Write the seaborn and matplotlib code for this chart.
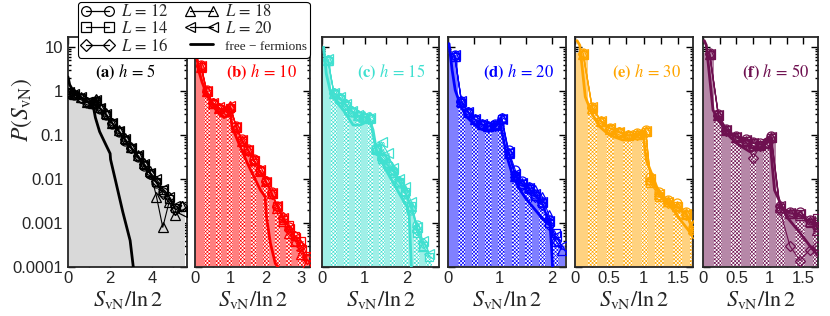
import numpy as np
import matplotlib
matplotlib.use("Agg")
import matplotlib.pyplot as plt
import seaborn as sns
from matplotlib.lines import Line2D
from matplotlib.ticker import MultipleLocator, LogLocator, NullFormatter, FuncFormatter

nan = np.nan
sizes_L = [12, 14, 16, 18, 20]

# ---------------- panel (a) h = 5 ----------------
x_a = [0.05, 0.3, 0.6, 0.9, 1.2, 1.35, 1.5, 1.8, 2.1, 2.4, 2.7, 3.0, 3.3, 3.6, 3.9, 4.2, 4.5, 4.8, 5.1, 5.4]
a_L12 = [0.9, 0.8, 0.68, 0.55, 0.5, 0.55, 0.4, 0.28, 0.18, 0.12, 0.075, 0.05, 0.031, 0.02, 0.013, 0.008, 0.005, nan, nan, nan]
a_L14 = [0.95, 0.82, 0.7, 0.56, 0.52, 0.6, 0.41, 0.29, 0.19, 0.122, 0.079, 0.05, 0.033, 0.021, 0.014, 0.0085, 0.0055, 0.0035, 0.0022, nan]
a_L16 = [0.92, 0.84, 0.71, 0.57, 0.54, 0.62, 0.42, 0.3, 0.185, 0.125, 0.08, 0.052, 0.034, 0.022, 0.013, 0.009, 0.0045, 0.004, 0.002, 0.0025]
a_L18 = [0.9, 0.85, 0.72, 0.58, 0.55, 0.65, 0.43, 0.31, 0.19, 0.13, 0.085, 0.054, 0.036, 0.023, 0.015, 0.004, 0.0008, 0.003, 0.0015, 0.0025]
a_L20 = [0.95, 0.85, 0.72, 0.58, 0.56, 0.63, 0.42, 0.3, 0.19, 0.125, 0.08, 0.05, 0.035, 0.022, 0.014, 0.01, 0.006, 0.004, 0.0025, 0.0018]
ffx_a = [0.0, 0.08, 0.25, 0.5, 0.8, 1.1, 1.2, 1.3, 1.5, 1.8, 2.0, 2.02, 2.25, 2.6, 2.95, 3.1]
ffy_a = [2.1, 1.4, 1.0, 0.8, 0.62, 0.52, 0.45, 0.25, 0.12, 0.06, 0.038, 0.028, 0.0095, 0.0018, 0.0004, 0.0001]

# ---------------- panel (b) h = 10 ----------------
x_b = [0.17, 0.33, 0.5, 0.67, 0.83, 1.0, 1.17, 1.33, 1.5, 1.67, 1.83, 2.0, 2.17, 2.33, 2.5, 2.67, 2.83, 3.0, 3.17]
b_L12 = [3.9, 1.05, 0.55, 0.42, 0.34, 0.4, 0.16, 0.08, 0.047, 0.028, 0.016, 0.009, 0.005, 0.0024, 0.0013, 0.0008, 0.0004, nan, nan]
b_L14 = [3.5, 1.0, 0.52, 0.4, 0.33, 0.42, 0.15, 0.075, 0.045, 0.027, 0.015, 0.0085, 0.0046, 0.0025, 0.0012, 0.0009, 0.0005, 0.0004, 0.00018]
b_L16 = [3.7, 0.95, 0.53, 0.41, 0.33, 0.43, 0.14, 0.072, 0.044, 0.026, 0.016, 0.0088, 0.0045, 0.0023, 0.0014, 0.0007, 0.0005, 0.0003, 0.00015]
b_L18 = [3.6, 1.0, 0.54, 0.42, 0.35, 0.47, 0.15, 0.074, 0.046, 0.027, 0.015, 0.009, 0.0047, 0.0022, 0.0011, 0.0006, 0.0004, 0.0002, 0.00012]
b_L20 = [3.8, 1.0, 0.55, 0.43, 0.35, 0.45, 0.15, 0.076, 0.045, 0.026, 0.016, 0.0087, 0.0048, 0.0024, 0.0013, 0.00075, 0.00045, 0.00025, 0.00017]
ffx_b = [0.03, 0.1, 0.2, 0.36, 0.55, 0.82, 0.95, 1.0, 1.05, 1.2, 1.48, 1.85, 1.98, 2.02, 2.13, 2.27, 2.35]
ffy_b = [8.0, 3.0, 1.6, 0.74, 0.42, 0.25, 0.28, 0.3, 0.15, 0.077, 0.023, 0.0056, 0.004, 0.0014, 0.00035, 0.00012, 0.0001]

# ---------------- panel (c) h = 15 ----------------
x_c = [0.14, 0.28, 0.42, 0.56, 0.7, 0.84, 0.98, 1.12, 1.26, 1.4, 1.54, 1.68, 1.82, 1.96, 2.1, 2.24, 2.38, 2.52]
c_L12 = [5.0, 0.9, 0.68, 0.48, 0.34, 0.27, 0.25, 0.24, 0.05, 0.03, 0.021, 0.015, 0.008, 0.0045, 0.002, 0.0009, nan, nan]
c_L14 = [4.8, 0.88, 0.66, 0.47, 0.33, 0.27, 0.25, 0.23, 0.045, 0.028, 0.02, 0.014, 0.0085, 0.005, 0.0025, 0.0006, 0.0003, 0.00017]
c_L16 = [5.2, 0.9, 0.7, 0.5, 0.35, 0.28, 0.26, 0.24, 0.046, 0.03, 0.022, 0.016, 0.009, 0.0048, 0.0022, 0.0007, 0.00035, nan]
c_L18 = [5.0, 0.92, 0.7, 0.5, 0.36, 0.29, 0.27, 0.26, 0.05, 0.035, 0.025, 0.017, 0.009, 0.0055, 0.0024, 0.0008, 0.0003, nan]
c_L20 = [5.5, 0.9, 0.72, 0.52, 0.36, 0.28, 0.26, 0.25, 0.048, 0.07, 0.04, 0.018, 0.01, 0.0066, 0.003, 0.0008, 0.0004, 0.0002]
ffx_c = [0.04, 0.1, 0.19, 0.35, 0.5, 0.73, 0.9, 1.05, 1.15, 1.2, 1.29, 1.45, 1.6, 1.8, 2.0, 2.05, 2.1]
ffy_c = [10.0, 2.5, 1.05, 0.55, 0.37, 0.17, 0.17, 0.2, 0.18, 0.13, 0.039, 0.02, 0.011, 0.005, 0.0023, 0.0015, 0.0001]

# ---------------- panel (d) h = 20 ----------------
x_d = [0.13, 0.26, 0.39, 0.52, 0.65, 0.78, 0.91, 1.04, 1.17, 1.3, 1.43, 1.56, 1.69, 1.82, 1.95, 2.08, 2.2]
d_L12 = [6.6, 0.6, 0.34, 0.23, 0.18, 0.16, 0.18, 0.25, 0.045, 0.016, 0.009, 0.0065, 0.0045, 0.003, 0.0012, nan, nan]
d_L14 = [6.0, 0.55, 0.32, 0.22, 0.17, 0.15, 0.17, 0.23, 0.04, 0.012, 0.0078, 0.006, 0.0042, 0.0028, 0.001, 0.0006, nan]
d_L16 = [6.2, 0.58, 0.33, 0.22, 0.17, 0.155, 0.165, 0.22, 0.038, 0.011, 0.0075, 0.0058, 0.004, 0.0026, 0.0009, 0.0004, nan]
d_L18 = [6.4, 0.6, 0.33, 0.23, 0.18, 0.16, 0.17, 0.24, 0.04, 0.012, 0.008, 0.0065, 0.0055, 0.004, 0.0015, 0.0004, 0.00025]
d_L20 = [6.5, 0.6, 0.34, 0.23, 0.18, 0.16, 0.17, 0.23, 0.042, 0.013, 0.0082, 0.0062, 0.0045, 0.003, 0.0011, 0.0005, 0.0003]
ffx_d = [0.02, 0.08, 0.14, 0.25, 0.36, 0.5, 0.62, 0.78, 0.9, 1.0, 1.04, 1.14, 1.26, 1.4, 1.52, 1.7, 1.84, 1.97, 2.0, 2.02]
ffy_d = [12.0, 3.0, 1.05, 0.45, 0.26, 0.18, 0.14, 0.125, 0.15, 0.2, 0.12, 0.032, 0.011, 0.0055, 0.0034, 0.0019, 0.0012, 0.001, 0.0003, 0.0001]

# ---------------- panel (e) h = 30 ----------------
x_e = [0.12, 0.25, 0.38, 0.51, 0.64, 0.77, 0.9, 1.03, 1.1, 1.23, 1.36, 1.49, 1.62, 1.72]
e_L12 = [7.2, 0.44, 0.21, 0.145, 0.12, 0.1, 0.11, 0.13, 0.011, 0.005, 0.0034, 0.0028, 0.0018, 0.0008]
e_L14 = [6.5, 0.4, 0.2, 0.14, 0.115, 0.095, 0.1, 0.12, 0.008, 0.004, 0.003, 0.0025, 0.0015, 0.0007]
e_L16 = [6.8, 0.42, 0.2, 0.14, 0.115, 0.095, 0.1, 0.12, 0.009, 0.0042, 0.0029, 0.0022, 0.0015, 0.0006]
e_L18 = [7.0, 0.42, 0.21, 0.14, 0.12, 0.1, 0.105, 0.125, 0.01, 0.0045, 0.0032, 0.0024, 0.0017, 0.0009]
e_L20 = [7.0, 0.43, 0.21, 0.145, 0.12, 0.1, 0.105, 0.125, 0.01, 0.0045, 0.003, 0.0023, 0.0016, 0.0007]
ffx_e = [0.03, 0.07, 0.15, 0.25, 0.36, 0.5, 0.7, 0.85, 0.99, 1.04, 1.19, 1.3, 1.43, 1.55, 1.65, 1.72]
ffy_e = [14.0, 11.0, 0.74, 0.3, 0.155, 0.1, 0.077, 0.085, 0.11, 0.027, 0.0067, 0.0035, 0.002, 0.0011, 0.0007, 0.0005]

# ---------------- panel (f) h = 50 ----------------
x_f = [0.1, 0.23, 0.35, 0.5, 0.65, 0.75, 0.85, 0.95, 1.02, 1.15, 1.3, 1.45, 1.6, 1.7]
f_L12 = [7.2, 0.3, 0.14, 0.095, 0.08, 0.07, 0.065, 0.07, 0.095, 0.0025, 0.0018, 0.0018, 0.0012, 0.0008]
f_L14 = [6.5, 0.28, 0.13, 0.09, 0.075, 0.065, 0.06, 0.065, 0.085, 0.0022, 0.0016, 0.0016, 0.001, 0.0013]
f_L16 = [6.8, 0.27, 0.125, 0.085, 0.07, 0.03, 0.055, 0.065, 0.08, 0.002, 0.0003, 0.00014, 0.00025, 0.0003]
f_L18 = [7.0, 0.28, 0.13, 0.09, 0.075, 0.065, 0.06, 0.066, 0.09, 0.0023, 0.0017, 0.0015, 0.0011, 0.0007]
f_L20 = [7.0, 0.29, 0.13, 0.09, 0.077, 0.066, 0.06, 0.068, 0.09, 0.0024, 0.0017, 0.0016, 0.0011, 0.0008]
ffx_f = [0.02, 0.05, 0.15, 0.35, 0.5, 0.7, 0.85, 1.0, 1.07, 1.25, 1.45, 1.6, 1.72]
ffy_f = [14.0, 11.0, 0.37, 0.11, 0.065, 0.042, 0.05, 0.077, 0.0056, 0.0014, 0.0006, 0.0003, 0.00018]

panel_labels = [r"$\mathbf{(a)}\ h\,=\,5$", r"$\mathbf{(b)}\ h\,=\,10$", r"$\mathbf{(c)}\ h\,=\,15$",
                r"$\mathbf{(d)}\ h\,=\,20$", r"$\mathbf{(e)}\ h\,=\,30$", r"$\mathbf{(f)}\ h\,=\,50$"]
ytick_vals = [10, 1, 0.1, 0.01, 0.001, 0.0001]

# ---------------- style ----------------
sns.set_theme(style="ticks")
plt.rcParams.update({
    "font.family": ["Liberation Sans", "DejaVu Sans"],
    "mathtext.fontset": "stix",
    "axes.linewidth": 1.3,
    "hatch.linewidth": 0.45,
    "xtick.labelsize": 12,
    "ytick.labelsize": 12,
})

fig = plt.figure(figsize=(8.3, 3.16), dpi=100)

panels = [
    dict(x=x_a, s=[a_L12, a_L14, a_L16, a_L18, a_L20], fx=ffx_a, fy=ffy_a, c="black", t="#d9d9d9",
         pat=False, left=68, w=119, xmax=5.65, step=1.0, lab=2.0, lx=0.48),
    dict(x=x_b, s=[b_L12, b_L14, b_L16, b_L18, b_L20], fx=ffx_b, fy=ffy_b, c="#ff0000", t="#ff8080",
         pat=True, left=195, w=115, xmax=3.25, step=0.5, lab=1.0, lx=0.58),
    dict(x=x_c, s=[c_L12, c_L14, c_L16, c_L18, c_L20], fx=ffx_c, fy=ffy_c, c="#40e0d0", t="#a0efe7",
         pat=True, left=322, w=117, xmax=2.75, step=0.5, lab=1.0, lx=0.59),
    dict(x=x_d, s=[d_L12, d_L14, d_L16, d_L18, d_L20], fx=ffx_d, fy=ffy_d, c="#0000ff", t="#8080ff",
         pat=True, left=448, w=118, xmax=2.28, step=0.5, lab=1.0, lx=0.6),
    dict(x=x_e, s=[e_L12, e_L14, e_L16, e_L18, e_L20], fx=ffx_e, fy=ffy_e, c="#ffa500", t="#ffd280",
         pat=True, left=575, w=118, xmax=1.72, step=0.25, lab=0.5, lx=0.61),
    dict(x=x_f, s=[f_L12, f_L14, f_L16, f_L18, f_L20], fx=ffx_f, fy=ffy_f, c="#6e1050", t="#b688a8",
         pat=True, left=703, w=115, xmax=1.72, step=0.25, lab=0.5, lx=0.63),
]
markers = ["o", "s", "D", "^", "<"]
msizes = [6.5, 6.0, 5.5, 6.5, 6.5]

W, H = 830.0, 316.0
bottom_px, top_px = 267.0, 37.0

for k, p in enumerate(panels):
    ax = fig.add_axes([p["left"] / W, 1 - bottom_px / H, p["w"] / W, (bottom_px - top_px) / H])
    xs = np.array(p["x"], float)
    arr = np.array(p["s"], float)
    env = np.nanmax(arr, axis=0)
    edges = np.concatenate([[0.0], (xs[1:] + xs[:-1]) / 2, [xs[-1] + (xs[-1] - xs[-2]) / 2]])
    widths = np.diff(edges)
    for i in range(len(xs)):
        if p["pat"] and i % 2 == 1:
            ax.bar(edges[i], env[i] - 1e-6, width=widths[i], bottom=1e-6, align="edge",
                   facecolor="white", edgecolor=p["c"], hatch="xxxxxxxxx", lw=0, zorder=1)
        else:
            ax.bar(edges[i], env[i] - 1e-6, width=widths[i], bottom=1e-6, align="edge",
                   facecolor=p["t"], edgecolor="none", lw=0, zorder=1)
    for j, ser in enumerate(p["s"]):
        sns.lineplot(x=xs, y=np.array(ser, float), ax=ax, color=p["c"], marker=markers[j],
                     markersize=msizes[j], markerfacecolor="none", markeredgecolor=p["c"],
                     markeredgewidth=0.9, linewidth=0.8, estimator=None, sort=False,
                     legend=False, zorder=3)
    sns.lineplot(x=np.array(p["fx"], float), y=np.array(p["fy"], float), ax=ax, color=p["c"],
                 linewidth=2.0, estimator=None, sort=False, legend=False, zorder=4)
    ax.set_yscale("log")
    ax.set_ylim(1e-4, 17)
    ax.set_xlim(0, p["xmax"])
    ax.set_xlabel(r"$S_{\rm vN}/\ln 2$", fontsize=16, labelpad=2)
    ax.set_ylabel("")
    lab = p["lab"]
    ax.xaxis.set_major_locator(MultipleLocator(p["step"]))
    ax.xaxis.set_major_formatter(FuncFormatter(
        lambda v, pos, lab=lab: ("%g" % round(v, 3)) if abs(v / lab - round(v / lab)) < 1e-6 else ""))
    ax.yaxis.set_major_locator(LogLocator(base=10, numticks=12))
    ax.yaxis.set_minor_locator(LogLocator(base=10, subs=np.arange(2, 10), numticks=12))
    ax.yaxis.set_minor_formatter(NullFormatter())
    if k == 0:
        ax.set_yticks(ytick_vals)
        ax.set_yticklabels(["%g" % v for v in ytick_vals])
    else:
        ax.tick_params(axis="y", labelleft=False)
    ax.tick_params(which="both", direction="in", top=True, right=True, width=1.0, color="black")
    ax.tick_params(which="major", length=5)
    ax.tick_params(which="minor", length=2.5)
    ax.tick_params(axis="x", pad=3)
    ax.set_ylim(1e-4, 17)
    ax.text(p["lx"], 0.845, panel_labels[k], transform=ax.transAxes, ha="center", va="center",
            fontsize=12, color=p["c"], zorder=6)

fig.text(22 / W, 1 - 110 / H, r"$P(S_{\rm vN})$", rotation=90, fontsize=17, ha="center", va="center")

# legend
handles = []
labels = []
for j, Lv in enumerate(sizes_L):
    handles.append(Line2D([0], [0], color="black", marker=markers[j], markersize=msizes[j] + 0.5,
                          markerfacecolor="none", markeredgecolor="black", markeredgewidth=0.9, lw=0.9))
    labels.append(r"$L\,=\,%d$" % Lv)
handles.append(Line2D([0], [0], color="black", lw=2.0))
labels.append("free − fermions")
leg = fig.legend(handles, labels, loc="upper left", bbox_to_anchor=(78 / W, 1 - 2 / H), ncol=2,
                 numpoints=2, fontsize=12, frameon=True, fancybox=True, edgecolor="black",
                 framealpha=1, borderpad=0.15, labelspacing=0.05, handlelength=2.0,
                 handletextpad=0.4, columnspacing=1.0, borderaxespad=0.0)
leg.get_frame().set_linewidth(0.8)
for t in leg.get_texts():
    t.set_family(["Liberation Serif", "DejaVu Serif"])
leg.get_texts()[5].set_fontsize(9.5)

fig.savefig("out.png", dpi=100)
